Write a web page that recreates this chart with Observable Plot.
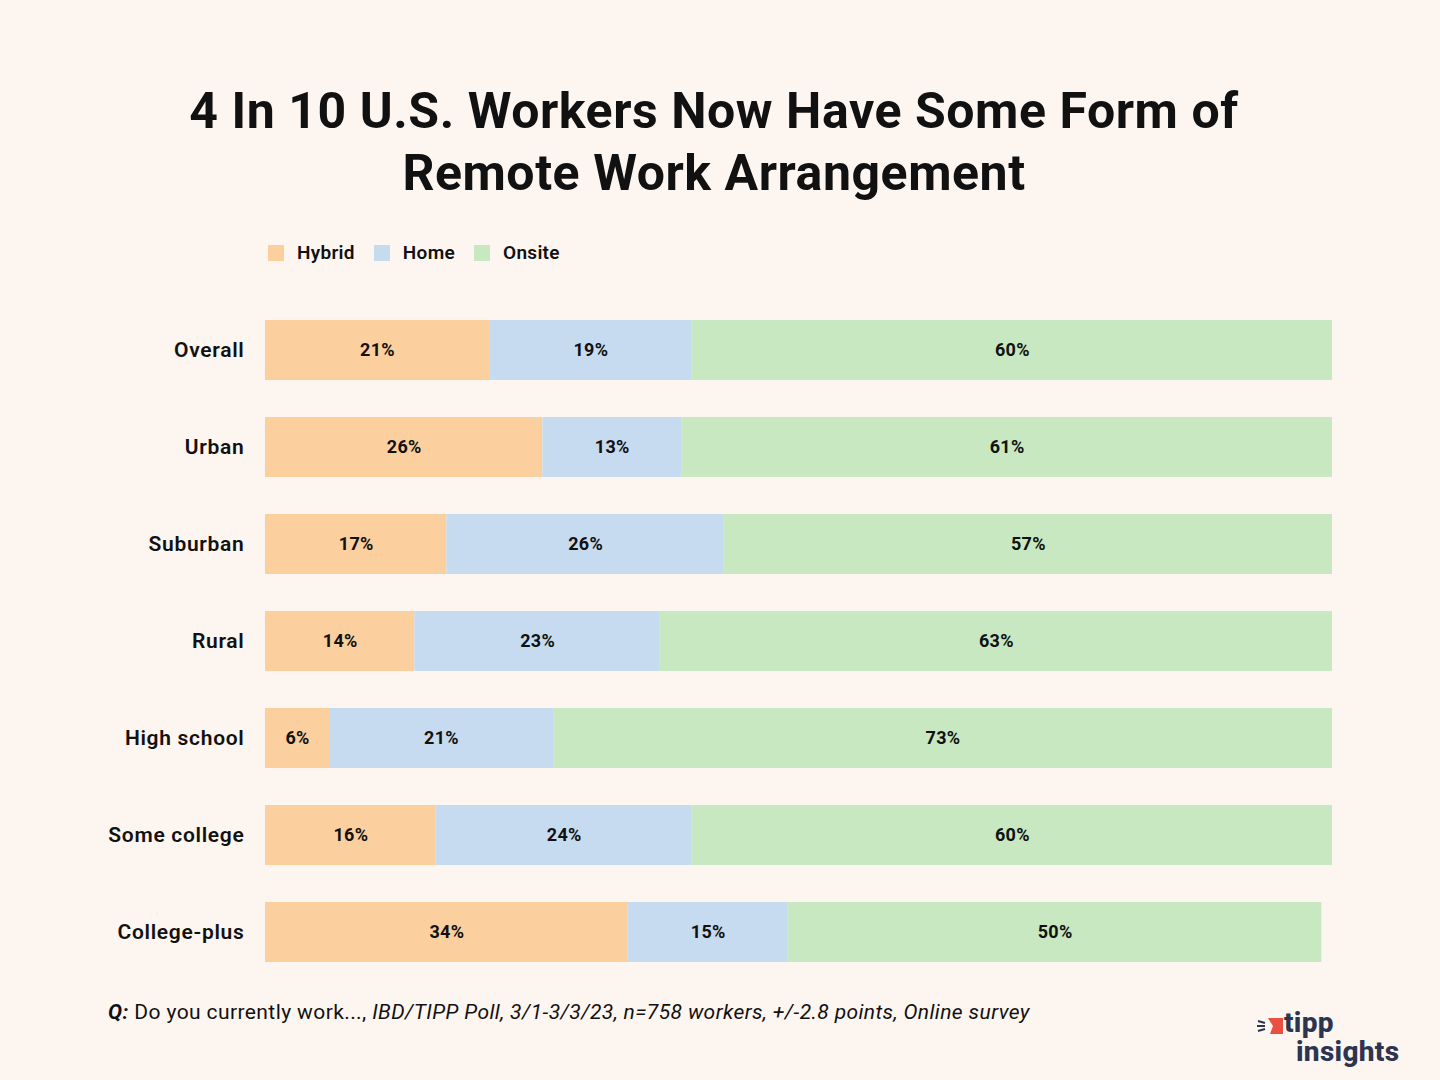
<!DOCTYPE html>
<html>
<head>
<meta charset="utf-8">
<script src="https://cdn.jsdelivr.net/npm/d3@7"></script>
<script src="https://cdn.jsdelivr.net/npm/@observablehq/plot@0.6"></script>
<style>
  html, body { margin: 0; padding: 0; background: #fdf6f0; }
  #page { position: relative; width: 1440px; height: 1080px; background: #fdf6f0; font-family: Roboto, "Noto Sans", sans-serif; color: #111; overflow: hidden; }
  #title { position: absolute; top: 80px; left: -6px; width: 1440px; text-align: center; font-size: 50px; font-weight: 700; line-height: 62px; letter-spacing: 0.55px; }
  #legend { position: absolute; top: 241px; left: 268px; display: flex; align-items: center; font-size: 19px; font-weight: 600; letter-spacing: 0.3px; }
  #legend .item { display: flex; align-items: center; margin-right: 19px; }
  #legend .sw { width: 16px; height: 16px; margin-right: 13px; }
  #chart { position: absolute; top: 289px; left: 0; }
  #chart svg g[aria-label="y-axis tick label"] text { letter-spacing: 0.7px; }
  #chart svg g[aria-label="text"] text { letter-spacing: 0.3px; }
  #footer { position: absolute; top: 1000px; left: 108px; font-size: 21px; letter-spacing: 0.4px; }
  #logo { position: absolute; top: 0; left: 0; color: #2d3451; font-weight: 800; font-size: 28px; line-height: 20px; letter-spacing: 0.3px; }
</style>
</head>
<body>
<div id="page">
  <div id="title">4 In 10 U.S. Workers Now Have Some Form of<br>Remote Work Arrangement</div>
  <div id="legend"></div>
  <div id="chart"></div>
  <div id="footer"><b><i>Q:</i></b> Do you currently work..., <i>IBD/TIPP Poll, 3/1-3/3/23, n=758 workers, +/-2.8 points, Online survey</i></div>
  <div id="logo">
    <svg width="30" height="20" style="position:absolute;left:1256px;top:1016px" viewBox="0 0 30 20">
      <path d="M12 2 L27 2 L27 18 L14 18 L17 10 Z" fill="#e8503f"/>
      <path d="M2 5 L9 7 M1 10 L9 10 M2 15 L9 13" stroke="#2d3451" stroke-width="2" fill="none"/>
    </svg>
    <div style="position:absolute;left:1284px;top:1013px">tipp</div>
    <div style="position:absolute;left:1296px;top:1042px">insights</div>
  </div>
</div>
<script>
const categories = ["Overall", "Urban", "Suburban", "Rural", "High school", "Some college", "College-plus"];
const seriesNames = ["Hybrid", "Home", "Onsite"];
const hybrid = [21, 26, 17, 14, 6, 16, 34];
const home = [19, 13, 26, 23, 21, 24, 15];
const onsite = [60, 61, 57, 63, 73, 60, 50];
const colors = ["#fccf9f", "#c6dbf0", "#c7e8c0"];

const seriesValues = [hybrid, home, onsite];
const data = [];
categories.forEach((c, i) => {
  seriesNames.forEach((s, j) => {
    data.push({category: c, series: s, value: seriesValues[j][i]});
  });
});

// legend
const legend = document.getElementById("legend");
seriesNames.forEach((s, j) => {
  const item = document.createElement("div");
  item.className = "item";
  item.innerHTML = `<div class="sw" style="background:${colors[j]}"></div><span>${s}</span>`;
  legend.appendChild(item);
});

const chart = Plot.plot({
  width: 1440,
  height: 703,
  marginLeft: 265,
  marginRight: 108,
  marginTop: 20,
  marginBottom: 20,
  style: {background: "transparent", fontFamily: "Roboto, 'Noto Sans', sans-serif", color: "#111"},
  x: {domain: [0, 100], axis: null},
  y: {domain: categories, paddingInner: 0.383, paddingOuter: 0.1, label: null, tickSize: 0, tickPadding: 21},
  color: {domain: seriesNames, range: colors},
  marks: [
    Plot.barX(data, Plot.stackX({x: "value", y: "category", z: "series", fill: "series", order: seriesNames})),
    Plot.text(data, Plot.stackX({x: "value", y: "category", z: "series", order: seriesNames, text: d => d.value + "%", fontSize: 18, fontWeight: 700, fill: "#111"})),
    Plot.axisY({tickSize: 0, tickPadding: 21, fontSize: 21, fontWeight: 600, label: null})
  ]
});
document.getElementById("chart").appendChild(chart);
</script>
</body>
</html>
